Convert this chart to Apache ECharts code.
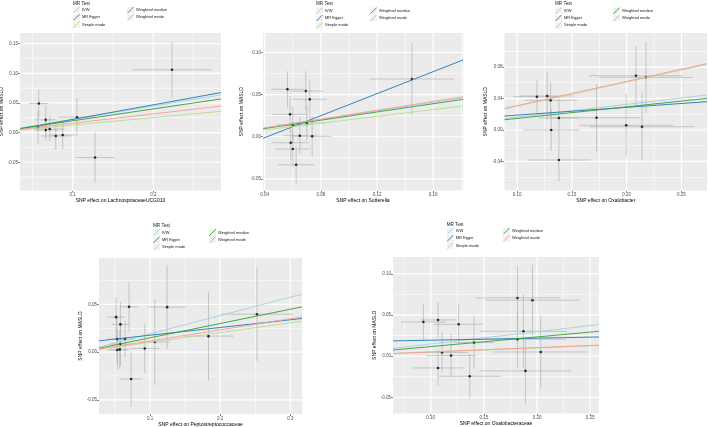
<!DOCTYPE html>
<html>
<head>
<meta charset="utf-8">
<script src="https://cdn.jsdelivr.net/npm/echarts@6/dist/echarts.min.js"></script>
<style>
  html, body { margin: 0; padding: 0; background: #fff; }
  #main { width: 708px; height: 427px; }
</style>
</head>
<body>
<div id="main"></div>
<script>
// MR methods, colours as in TwoSampleMR scatter plots (brewer "Paired")
const methodNames = ['IVW', 'MR Egger', 'Simple mode', 'Weighted median', 'Weighted mode'];
const methodColors = ['#a6cee3', '#1f78b4', '#b2df8a', '#33a02c', '#fb9a99'];

// LachnospiraceaeUCG010
const lachnoBx = [0.058, 0.0665, 0.057, 0.0665, 0.0715, 0.079, 0.0876, 0.1053, 0.1277, 0.2232];
const lachnoBy = [0.049, 0.0215, 0.009, 0.0045, 0.006, -0.0056, -0.004, 0.026, -0.042, 0.106];
const lachnoSx = [0.012, 0.013, 0.013, 0.015, 0.018, 0.018, 0.016, 0.023, 0.024, 0.049];
const lachnoSy = [0.024, 0.024, 0.028, 0.018, 0.021, 0.023, 0.024, 0.031, 0.042, 0.047];
const lachnoSlope = [0.224, 0.246, 0.127, 0.2, 0.158];
const lachnoIcpt = [0, -0.0023, 0, 0, 0];

// Sutterella
const sutterBx = [0.0562, 0.0693, 0.0721, 0.0581, 0.06, 0.07, 0.065, 0.0738, 0.0586, 0.06, 0.0624, 0.1448];
const sutterBy = [0.0562, 0.0541, 0.0443, 0.0265, 0.0139, 0.0162, 0.0012, 0.0005, -0.0071, -0.0146, -0.0332, 0.0684];
const sutterSx = [0.0119, 0.0119, 0.0122, 0.0127, 0.0117, 0.0125, 0.0119, 0.014, 0.0129, 0.0125, 0.0131, 0.03];
const sutterSy = [0.0213, 0.0237, 0.0233, 0.0217, 0.0217, 0.0207, 0.0217, 0.0233, 0.0207, 0.0207, 0.0221, 0.0428];
const sutterSlope = [0.255, 0.652, 0.201, 0.2445, 0.2616];
const sutterIcpt = [0, -0.0272, 0, 0, 0];

// Oxalobacter
const oxaloBx = [0.118, 0.1274, 0.1305, 0.1381, 0.1311, 0.1381, 0.1725, 0.2085, 0.2176, 0.1996, 0.214];
const oxaloBy = [0.0423, 0.0432, 0.0377, 0.0152, 0.0, -0.0381, 0.0156, 0.069, 0.0669, 0.006, 0.0042];
const oxaloSx = [0.0213, 0.025, 0.024, 0.018, 0.0256, 0.029, 0.04, 0.043, 0.043, 0.043, 0.048];
const oxaloSy = [0.0212, 0.0296, 0.023, 0.025, 0.0264, 0.0275, 0.043, 0.038, 0.045, 0.04, 0.043];
const oxaloSlope = [0.163, 0.0984, 0.305, 0.147, 0.309];
const oxaloIcpt = [0, 0.0091, 0, 0, 0];

// Peptostreptococcaceae
const peptoBx = [0.0514, 0.07, 0.0576, 0.0529, 0.0643, 0.0576, 0.0533, 0.0567, 0.0729, 0.0924, 0.1067, 0.1243, 0.1833, 0.2524];
const peptoBy = [0.0366, 0.0474, 0.029, 0.0136, 0.0136, 0.0084, 0.0021, 0.0028, -0.0282, 0.0038, 0.0105, 0.0471, 0.0167, 0.0397];
const peptoSx = [0.013, 0.013, 0.013, 0.013, 0.0125, 0.015, 0.014, 0.014, 0.016, 0.021, 0.021, 0.027, 0.036, 0.051];
const peptoSy = [0.021, 0.026, 0.024, 0.025, 0.019, 0.023, 0.021, 0.02, 0.029, 0.026, 0.045, 0.044, 0.0465, 0.049];
const peptoSlope = [0.1917, 0.0808, 0.1023, 0.1497, 0.1165];
const peptoIcpt = [0, 0.0096, 0, 0, 0];

// Oxalobacteraceae
const oxaceBx = [0.0931, 0.1069, 0.1263, 0.1407, 0.1106, 0.1191, 0.1069, 0.1367, 0.1816, 0.1957, 0.1872, 0.1816, 0.2035, 0.1891];
const oxaceBy = [0.0416, 0.0441, 0.0388, 0.0166, 0.0045, 0.0008, -0.0142, -0.0243, 0.0708, 0.068, 0.0303, 0.0206, 0.0052, -0.0178];
const oxaceSx = [0.021, 0.017, 0.023, 0.019, 0.025, 0.023, 0.0235, 0.029, 0.0395, 0.044, 0.041, 0.046, 0.044, 0.043];
const oxaceSy = [0.0222, 0.022, 0.024, 0.032, 0.024, 0.026, 0.022, 0.027, 0.039, 0.043, 0.045, 0.035, 0.044, 0.04];
const oxaceSlope = [0.149, 0.0248, 0.0505, 0.1173, 0.0525];
const oxaceIcpt = [0, 0.017, 0, 0, 0];

// tick labels
const lachnoXTicks = [0.1, 0.2];
const lachnoYTicks = [-0.05, 0, 0.05, 0.1, 0.15];
const sutterXTicks = [0.04, 0.08, 0.12, 0.16];
const sutterYTicks = [-0.05, 0, 0.05, 0.1];
const oxaloXTicks = [0.1, 0.15, 0.2, 0.25];
const oxaloYTicks = [-0.04, 0, 0.04, 0.08];
const peptoXTicks = [0.1, 0.2, 0.3];
const peptoYTicks = [-0.05, 0, 0.05];
const oxaceXTicks = [0.1, 0.15, 0.2, 0.25];
const oxaceYTicks = [-0.05, 0, 0.05, 0.1];

const FONT = 'Liberation Sans, Arial, sans-serif';

const panels = [
  { exposure: 'LachnospiraceaeUCG010', bx: lachnoBx, by: lachnoBy, sx: lachnoSx, sy: lachnoSy,
    slope: lachnoSlope, icpt: lachnoIcpt, xTicks: lachnoXTicks, yTicks: lachnoYTicks, xDec: 1, yDec: 2,
    xMin: 0.0346, xMax: 0.284, yMin: -0.0976, yMax: 0.168,
    box: [20, 33, 201, 157.5], yGap: 13, legend: [73, 1], col2: 54 },
  { exposure: 'Sutterella', bx: sutterBx, by: sutterBy, sx: sutterSx, sy: sutterSy,
    slope: sutterSlope, icpt: sutterIcpt, xTicks: sutterXTicks, yTicks: sutterYTicks, xDec: 2, yDec: 2,
    xMin: 0.0388, xMax: 0.1812, yMin: -0.0637, yMax: 0.1229,
    box: [263, 33, 200, 157.5], yGap: 19, legend: [316, 1.7], col2: 54 },
  { exposure: 'Oxalobacter', bx: oxaloBx, by: oxaloBy, sx: oxaloSx, sy: oxaloSy,
    slope: oxaloSlope, icpt: oxaloIcpt, xTicks: oxaloXTicks, yTicks: oxaloYTicks, xDec: 2, yDec: 2,
    xMin: 0.0884, xMax: 0.2734, yMin: -0.0769, yMax: 0.1233,
    box: [504.5, 33, 202.5, 157.5], yGap: 14.5, legend: [555, 1.7], col2: 58 },
  { exposure: 'Peptostreptococcaceae', bx: peptoBx, by: peptoBy, sx: peptoSx, sy: peptoSy,
    slope: peptoSlope, icpt: peptoIcpt, xTicks: peptoXTicks, yTicks: peptoYTicks, xDec: 1, yDec: 2,
    xMin: 0.0271, xMax: 0.3167, yMin: -0.0649, yMax: 0.0986,
    box: [99, 258, 203, 156], yGap: 15, legend: [153, 223.5], col2: 56 },
  { exposure: 'Oxalobacteraceae', bx: oxaceBx, by: oxaceBy, sx: oxaceSx, sy: oxaceSy,
    slope: oxaceSlope, icpt: oxaceIcpt, xTicks: oxaceXTicks, yTicks: oxaceYTicks, xDec: 2, yDec: 2,
    xMin: 0.0645, xMax: 0.2583, yMin: -0.0695, yMax: 0.1205,
    box: [393, 257, 206, 156.5], yGap: 14.5, legend: [446.7, 222], col2: 56.3 }
];

// ggplot-style minor breaks: half way between major breaks, kept inside the range
function minorBreaks(ticks, lo, hi) {
  const step = ticks.length > 1 ? ticks[1] - ticks[0] : 0.1;
  const out = [];
  for (let v = ticks[0] - step * 1.5; v <= ticks[ticks.length - 1] + step * 1.5 + 1e-9; v += step) {
    if (v > lo && v < hi) out.push(+v.toFixed(6));
  }
  return out;
}

function keyIcon(color) {
  const svg = "<svg xmlns='http://www.w3.org/2000/svg' width='14' height='14'>" +
    "<rect width='14' height='14' fill='#F2F2F2'/>" +
    "<line x1='0.5' y1='13.5' x2='13.5' y2='0.5' stroke='" + color + "' stroke-width='1.8'/></svg>";
  return 'image://data:image/svg+xml;charset=utf-8,' + encodeURIComponent(svg);
}

// grey panel and its white grid (thin filled bands), drawn in one custom series
function panelSeries(i, p) {
  const minorX = minorBreaks(p.xTicks, p.xMin, p.xMax);
  const minorY = minorBreaks(p.yTicks, p.yMin, p.yMax);
  return {
    type: 'custom', xAxisIndex: i, yAxisIndex: i, silent: true, clip: false, z: 1,
    data: [[p.xMin, p.yMin]],
    renderItem: (params, api) => {
      const lo = api.coord([p.xMin, p.yMin]), hi = api.coord([p.xMax, p.yMax]);
      const children = [{
        type: 'rect', z2: 0, shape: { x: lo[0], y: hi[1], width: hi[0] - lo[0], height: lo[1] - hi[1] },
        style: { fill: '#EBEBEB' }
      }];
      const addBands = (xs, ys, w) => {
        xs.forEach(v => {
          const c = api.coord([v, p.yMin]);
          children.push({ type: 'rect', z2: 5, shape: { x: c[0] - w / 2, y: hi[1], width: w, height: lo[1] - hi[1] },
            style: { fill: '#FFFFFF' } });
        });
        ys.forEach(v => {
          const c = api.coord([p.xMin, v]);
          children.push({ type: 'rect', z2: 5, shape: { x: lo[0], y: c[1] - w / 2, width: hi[0] - lo[0], height: w },
            style: { fill: '#FFFFFF' } });
        });
      };
      addBands(minorX, minorY, 0.6);
      addBands(p.xTicks, p.yTicks, 1.2);
      return { type: 'group', children };
    }
  };
}

const grids = [], xAxes = [], yAxes = [], series = [], legends = [], graphics = [];

panels.forEach((p, i) => {
  const [left, top, width, height] = p.box;
  grids.push({ left, top, width, height, show: false, outerBoundsMode: 'none' });

  const tickStyle = { show: true, length: 2, lineStyle: { color: '#333333', width: 0.6 } };
  const labelStyle = { fontSize: 4.5, color: '#4D4D4D', fontFamily: FONT, margin: 2 };

  xAxes.push({
    gridIndex: i, type: 'value', min: p.xMin, max: p.xMax, position: 'bottom',
    axisLine: { show: false, onZero: false },
    axisTick: Object.assign({ customValues: p.xTicks }, tickStyle),
    axisLabel: Object.assign({ customValues: p.xTicks, formatter: v => (+v).toFixed(p.xDec) }, labelStyle),
    splitLine: { show: false },
    name: 'SNP effect on ' + p.exposure, nameLocation: 'middle', nameGap: 6,
    nameTextStyle: { fontSize: 5, color: '#000', fontFamily: FONT }
  });
  yAxes.push({
    gridIndex: i, type: 'value', min: p.yMin, max: p.yMax, position: 'left',
    axisLine: { show: false, onZero: false },
    axisTick: Object.assign({ customValues: p.yTicks }, tickStyle),
    axisLabel: Object.assign({ customValues: p.yTicks, formatter: v => (+v).toFixed(p.yDec) }, labelStyle),
    splitLine: { show: false },
    name: 'SNP effect on MASLD', nameLocation: 'middle', nameGap: p.yGap, nameRotate: 90,
    nameTextStyle: { fontSize: 5, color: '#000', fontFamily: FONT }
  });

  series.push(panelSeries(i, p));

  // error bars
  series.push({
    type: 'custom', xAxisIndex: i, yAxisIndex: i, silent: true, clip: true, z: 2,
    data: p.bx.map((x, k) => [x, p.by[k], p.sx[k], p.sy[k]]),
    encode: { x: 0, y: 1 },
    renderItem: (params, api) => {
      const x = api.value(0), y = api.value(1), ex = api.value(2), ey = api.value(3);
      const a = api.coord([x - ex, y]), b = api.coord([x + ex, y]);
      const c = api.coord([x, y - ey]), d = api.coord([x, y + ey]);
      const st = { stroke: '#A9A9A9', lineWidth: 0.6 };
      return { type: 'group', children: [
        { type: 'line', shape: { x1: a[0], y1: a[1], x2: b[0], y2: b[1] }, style: st },
        { type: 'line', shape: { x1: c[0], y1: c[1], x2: d[0], y2: d[1] }, style: st }
      ] };
    }
  });

  // SNP points
  series.push({
    type: 'scatter', xAxisIndex: i, yAxisIndex: i, silent: true, z: 3,
    symbol: 'circle', symbolSize: 2.6, itemStyle: { color: '#000' },
    data: p.bx.map((x, k) => [x, p.by[k]])
  });

  // MR fit lines
  methodNames.forEach((m, k) => {
    series.push({
      name: m, type: 'line', xAxisIndex: i, yAxisIndex: i, silent: true, z: 4,
      showSymbol: false, symbol: 'none', color: methodColors[k],
      lineStyle: { color: methodColors[k], width: 0.9 },
      data: [p.xMin, p.xMax].map(x => [x, p.icpt[k] + p.slope[k] * x])
    });
  });

  const [lx, ly] = p.legend;
  graphics.push({ type: 'text', left: lx, top: ly, style: { text: 'MR Test', fontSize: 4.6, fill: '#1a1a1a', fontFamily: FONT } });
  const legendBase = {
    orient: 'vertical', itemWidth: 7, itemHeight: 7, itemGap: 0.3, padding: 0, selectedMode: false,
    textStyle: { fontSize: 4, color: '#1a1a1a', fontFamily: FONT, padding: [0, 0, 0, -3] }
  };
  legends.push(Object.assign({}, legendBase, {
    left: lx, top: ly + 5.5,
    data: methodNames.slice(0, 3).map((n, k) => ({ name: n, icon: keyIcon(methodColors[k]) }))
  }));
  legends.push(Object.assign({}, legendBase, {
    left: lx + p.col2, top: ly + 5.5,
    data: methodNames.slice(3).map((n, k) => ({ name: n, icon: keyIcon(methodColors[k + 3]) }))
  }));
});

const chart = echarts.init(document.getElementById('main'), null, { renderer: 'canvas', devicePixelRatio: 1 });
chart.setOption({
  backgroundColor: '#FFFFFF',
  animation: false,
  grid: grids,
  xAxis: xAxes,
  yAxis: yAxes,
  legend: legends,
  graphic: graphics,
  series: series
});
</script>
</body>
</html>
